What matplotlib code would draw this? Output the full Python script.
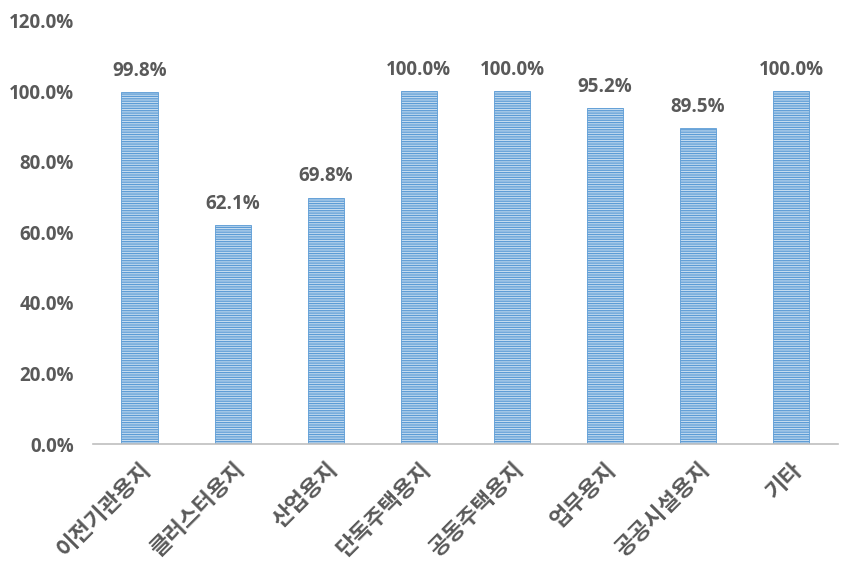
import matplotlib
matplotlib.use('Agg')
import matplotlib.pyplot as plt
from matplotlib.ticker import FuncFormatter

plt.rcParams['font.family'] = ['Noto Sans CJK KR', 'DejaVu Sans']
plt.rcParams['hatch.linewidth'] = 0.9
plt.rcParams['hatch.color'] = '#5B9BD5'

categories = ['이전기관용지', '클러스터용지', '산업용지', '단독주택용지',
              '공동주택용지', '업무용지', '공공시설용지', '기타']
values = [99.8, 62.1, 69.8, 100.0, 100.0, 95.2, 89.5, 100.0]

text_color = '#595959'
num_font = ['Open Sans', 'DejaVu Sans']

fig = plt.figure(figsize=(8.54, 5.70), dpi=100)
ax = fig.add_axes([0.109, 0.221, 0.872, 0.743])

x = list(range(len(categories)))
bars = ax.bar(x, values, width=0.39, color='#C5DCF0', edgecolor='#5B9BD5',
              hatch='-------', linewidth=0.6)

for xi, v in zip(x, values):
    ax.text(xi, v + 3.2, f'{v:.1f}%', ha='center', va='bottom',
            fontsize=13.5, fontweight='bold', color=text_color, family=num_font)

ax.set_xlim(-0.5, len(categories) - 0.5)
ax.set_ylim(0, 120)
ax.set_yticks(range(0, 121, 20))
ax.yaxis.set_major_formatter(FuncFormatter(lambda v, p: f'{v:.1f}%'))
ax.set_xticks(x)
ax.set_xticklabels(categories, rotation=45, ha='right', rotation_mode='anchor')

for lbl in ax.get_yticklabels():
    lbl.set_fontsize(13.5)
    lbl.set_fontweight('bold')
    lbl.set_color(text_color)
    lbl.set_family(num_font)
for lbl in ax.get_xticklabels():
    lbl.set_fontsize(16)
    lbl.set_fontweight('bold')
    lbl.set_color(text_color)

ax.tick_params(axis='both', length=0)
ax.tick_params(axis='y', pad=14)
ax.tick_params(axis='x', pad=10)
for side in ['top', 'right', 'left']:
    ax.spines[side].set_visible(False)
ax.spines['bottom'].set_color('#BFBFBF')
ax.spines['bottom'].set_linewidth(1.2)

fig.savefig('out.png', dpi=100)
